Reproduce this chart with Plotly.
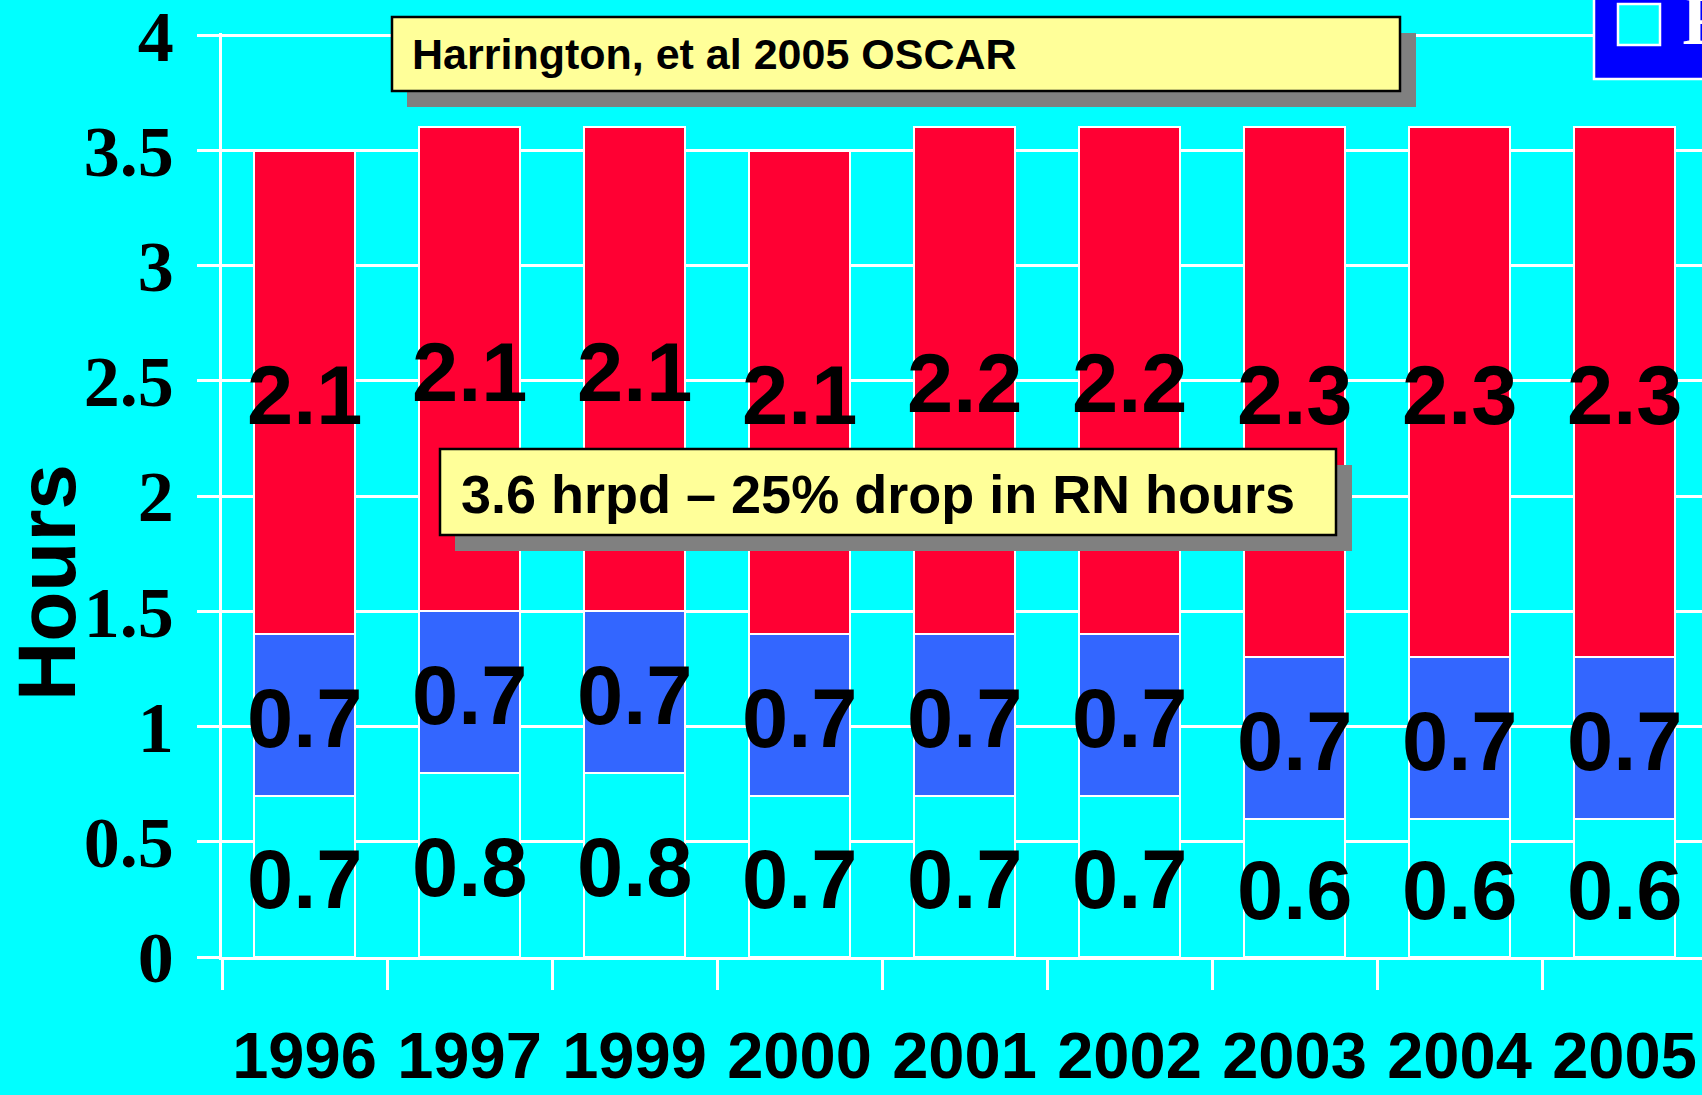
import plotly.graph_objects as go

# ---------------- data ----------------
years = ["1996", "1997", "1999", "2000", "2001", "2002", "2003", "2004", "2005"]
rn_hours = [0.7, 0.8, 0.8, 0.7, 0.7, 0.7, 0.6, 0.6, 0.6]
lpn_hours = [0.7, 0.7, 0.7, 0.7, 0.7, 0.7, 0.7, 0.7, 0.7]
cna_hours = [2.1, 2.1, 2.1, 2.1, 2.2, 2.2, 2.3, 2.3, 2.3]
series_names = ["RN", "LPN", "CNA"]
y_tick_values = [0, 0.5, 1, 1.5, 2, 2.5, 3, 3.5, 4]
y_tick_labels = ["0", "0.5", "1", "1.5", "2", "2.5", "3", "3.5", "4"]
source_note = "Harrington, et al 2005 OSCAR"
drop_note = "3.6 hrpd \u2013 25% drop in RN hours"
axis_title = "Hours"

# ---------------- styling ----------------
W, H = 1702, 1095
L, R, T, B = 222, 0, 33, 138
PW, PH = W - L - R, H - T - B
CAT_PX = 165.0

BG = "#00FFFF"
RED = "#FF0033"
BLUE = "#3366FF"
SANS = "Liberation Sans, Arial, sans-serif"
SERIF = "Liberation Serif, Times New Roman, serif"


def px(x):
    return (x - L) / PW


def py(y):
    return (H - B - y) / PH


fig = go.Figure()

colors = [BG, BLUE, RED]
for name, vals, col in zip(series_names, [rn_hours, lpn_hours, cna_hours], colors):
    fig.add_trace(go.Bar(
        x=years, y=vals, name=name,
        marker=dict(color=col, line=dict(color="white", width=2)),
        showlegend=False, hoverinfo="skip",
    ))

annotations = []

# value labels centred in each segment (placed through the data axes;
# x given as the category index on the category axis)
base = [0.0] * len(years)
for vals in [rn_hours, lpn_hours, cna_hours]:
    for i, (b, v) in enumerate(zip(base, vals)):
        annotations.append(dict(
            xref="x", yref="y", x=i, y=b + v / 2, yshift=-3,
            text=f"{v:.1f}", showarrow=False, xanchor="center", yanchor="middle",
            font=dict(family=SANS, size=83, color="black", weight="bold"),
        ))
    base = [b + v for b, v in zip(base, vals)]

shapes = []
# note boxes with drop shadows
for (x0, y0, x1, y1) in [(392, 17, 1400, 91), (440, 449, 1336, 535)]:
    shapes.append(dict(type="rect", xref="paper", yref="paper",
                       x0=px(x0 + 15), x1=px(x1 + 16), y0=py(y0 + 16), y1=py(y1 + 16),
                       fillcolor="#808080", line=dict(width=0), layer="above"))
    shapes.append(dict(type="rect", xref="paper", yref="paper",
                       x0=px(x0), x1=px(x1), y0=py(y0), y1=py(y1),
                       fillcolor="#FFFF99", line=dict(color="black", width=2.5), layer="above"))
# legend box (cut off at the right edge)
shapes.append(dict(type="rect", xref="paper", yref="paper",
                   x0=px(1594), x1=px(1800), y0=py(-10), y1=py(79),
                   fillcolor="#0000FF", line=dict(color="white", width=2.5), layer="above"))
shapes.append(dict(type="rect", xref="paper", yref="paper",
                   x0=px(1618), x1=px(1660), y0=py(4), y1=py(45),
                   fillcolor=BG, line=dict(color="white", width=2.5), layer="above"))

annotations += [
    dict(xref="paper", yref="paper", x=px(410), y=py(54), xanchor="left", yanchor="middle",
         text=source_note, showarrow=False,
         font=dict(family=SANS, size=43, color="black", weight="bold")),
    dict(xref="paper", yref="paper", x=px(459), y=py(494), xanchor="left", yanchor="middle",
         text=drop_note, showarrow=False,
         font=dict(family=SANS, size=54, color="black", weight="bold")),
    dict(xref="paper", yref="paper", x=px(1680), y=py(20), xanchor="left", yanchor="middle",
         text=series_names[0], showarrow=False,
         font=dict(family=SERIF, size=72, color="white", weight="bold")),
    dict(xref="paper", yref="paper", x=px(46), y=py(583), xanchor="center", yanchor="middle",
         text=axis_title, showarrow=False, textangle=-90,
         font=dict(family=SANS, size=82, color="black", weight="bold")),
]

fig.update_layout(
    width=W, height=H,
    margin=dict(l=L, r=R, t=T, b=B, pad=0, autoexpand=False),
    paper_bgcolor=BG, plot_bgcolor=BG,
    barmode="stack", bargap=0.39,
    showlegend=False,
    shapes=shapes, annotations=annotations,
    xaxis=dict(
        type="category", range=[-0.5, -0.5 + PW / CAT_PX],
        tickson="boundaries", ticks="outside", ticklen=30, tickwidth=2.5, tickcolor="white",
        showline=True, linecolor="white", linewidth=2.5, showgrid=False,
        tickfont=dict(family=SANS, size=65, color="black", weight="bold"),
        ticklabelstandoff=40, ticklabeloverflow="allow",
    ),
    yaxis=dict(
        range=[0, 4.01], tickvals=y_tick_values, ticktext=y_tick_labels,
        ticks="outside", ticklen=22, tickwidth=2.5, tickcolor="white",
        showline=True, linecolor="white", linewidth=2.5,
        showgrid=True, gridcolor="white", gridwidth=2.5, zeroline=False,
        tickfont=dict(family=SERIF, size=72, color="black", weight="bold"),
        ticklabelstandoff=9, ticklabeloverflow="allow",
    ),
)

fig.write_html(
    "out.html",
    config={"displayModeBar": False},
    post_script="document.body.style.margin='0';document.body.style.background='#00FFFF';",
)
